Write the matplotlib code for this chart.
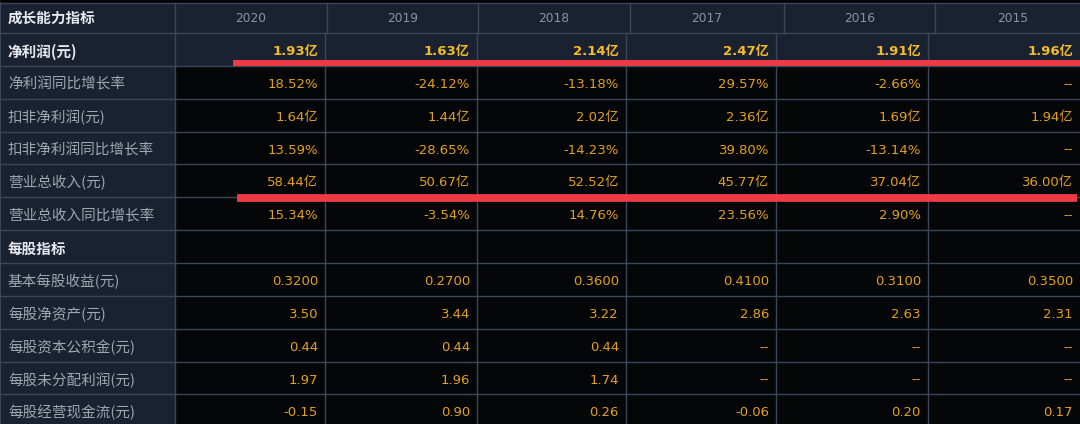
import matplotlib.pyplot as plt
from matplotlib.patches import Rectangle

# table content
header_title = '成长能力指标'
years = ['2020', '2019', '2018', '2017', '2016', '2015']
row_labels = ['净利润(元)', '净利润同比增长率', '扣非净利润(元)', '扣非净利润同比增长率',
              '营业总收入(元)', '营业总收入同比增长率', '每股指标', '基本每股收益(元)',
              '每股净资产(元)', '每股资本公积金(元)', '每股未分配利润(元)', '每股经营现金流(元)']
net_profit = ['1.93亿', '1.63亿', '2.14亿', '2.47亿', '1.91亿', '1.96亿']
net_profit_yoy = ['18.52%', '-24.12%', '-13.18%', '29.57%', '-2.66%', '--']
deducted_profit = ['1.64亿', '1.44亿', '2.02亿', '2.36亿', '1.69亿', '1.94亿']
deducted_yoy = ['13.59%', '-28.65%', '-14.23%', '39.80%', '-13.14%', '--']
revenue = ['58.44亿', '50.67亿', '52.52亿', '45.77亿', '37.04亿', '36.00亿']
revenue_yoy = ['15.34%', '-3.54%', '14.76%', '23.56%', '2.90%', '--']
per_share = ['', '', '', '', '', '']
eps = ['0.3200', '0.2700', '0.3600', '0.4100', '0.3100', '0.3500']
bvps = ['3.50', '3.44', '3.22', '2.86', '2.63', '2.31']
capital_reserve_ps = ['0.44', '0.44', '0.44', '--', '--', '--']
undistributed_ps = ['1.97', '1.96', '1.74', '--', '--', '--']
cashflow_ps = ['-0.15', '0.90', '0.26', '-0.06', '0.20', '0.17']
table = [net_profit, net_profit_yoy, deducted_profit, deducted_yoy, revenue, revenue_yoy,
         per_share, eps, bvps, capital_reserve_ps, undistributed_ps, cashflow_ps]
bold_rows = [0, 6]       # section-like rows with white bold label

# layout (pixels)
W, H = 1080, 424
top, head_h, row_h = 3, 30, 32.86
label_w = 175
head_edges = [175, 327, 478, 630, 784, 935, 1090]
col_edges = [175, 325, 477, 626, 776, 928, 1080]

bg_navy = '#1a2232'
bg_dark = '#050608'
grid_c = '#3a4659'
label_c = '#9ea6b2'
label_bold_c = '#e6e9ee'
year_c = '#8a93a0'
value_c = '#e2a11f'
value_bold_c = '#f3bb2a'

fig = plt.figure(figsize=(W / 100, H / 100), dpi=100)
ax = fig.add_axes([0, 0, 1, 1])
ax.set_xlim(0, W)
ax.set_ylim(H, 0)
ax.axis('off')
fig.patch.set_facecolor('#030405')

cjk = ['Noto Sans CJK SC', 'DejaVu Sans']
num = ['DejaVu Sans', 'Noto Sans CJK SC']

# header row
ax.add_patch(Rectangle((0, top), W, head_h, fc=bg_navy, ec='none'))
ax.text(8, top + head_h / 2, header_title, color=label_bold_c, fontsize=10.5,
        family=cjk, fontweight='bold', va='center', ha='left')
for i, y in enumerate(years):
    cx = (head_edges[i] + head_edges[i + 1]) / 2
    ax.text(cx, top + head_h / 2 + 1, y, color=year_c, fontsize=8.8, family=num,
            va='center', ha='center')
for x in head_edges[:-1]:
    ax.plot([x, x], [top, top + head_h], color=grid_c, lw=1)

y0 = top + head_h
for r, label in enumerate(row_labels):
    ry = y0 + r * row_h
    ax.add_patch(Rectangle((0, ry), label_w, row_h, fc=bg_navy, ec='none'))
    cell_bg = bg_navy if r == 0 else bg_dark
    ax.add_patch(Rectangle((label_w, ry), W - label_w, row_h, fc=cell_bg, ec='none'))
    bold = r in bold_rows
    ax.text(8, ry + row_h / 2 + 2, label, color=label_bold_c if bold else label_c,
            fontsize=10.5, family=cjk, fontweight='bold' if bold else 'normal',
            va='center', ha='left')
    for c, v in enumerate(table[r]):
        ax.text(col_edges[c + 1] - 7, ry + row_h / 2 + 2, v,
                color=value_bold_c if r == 0 else value_c, fontsize=9.5, family=num,
                fontweight='bold' if r == 0 else 'normal', va='center', ha='right')
    ax.plot([0, W], [ry, ry], color=grid_c, lw=1)
    for x in col_edges[:-1]:
        ax.plot([x, x], [ry, ry + row_h], color=grid_c, lw=1)
ax.plot([0, 0], [top, H], color=grid_c, lw=1.5)
ax.plot([0, W], [top, top], color=grid_c, lw=1)

# red underline marks
ax.plot([233, W], [y0 + row_h - 2.5, y0 + row_h - 2.5], color='#ee3a44', lw=4.3,
        solid_capstyle='butt')
ax.plot([237, 1077], [y0 + 5 * row_h + 0.5, y0 + 5 * row_h + 0.5], color='#ee3a44',
        lw=5.6, solid_capstyle='butt')

fig.savefig('out.png', dpi=100, facecolor=fig.get_facecolor())
